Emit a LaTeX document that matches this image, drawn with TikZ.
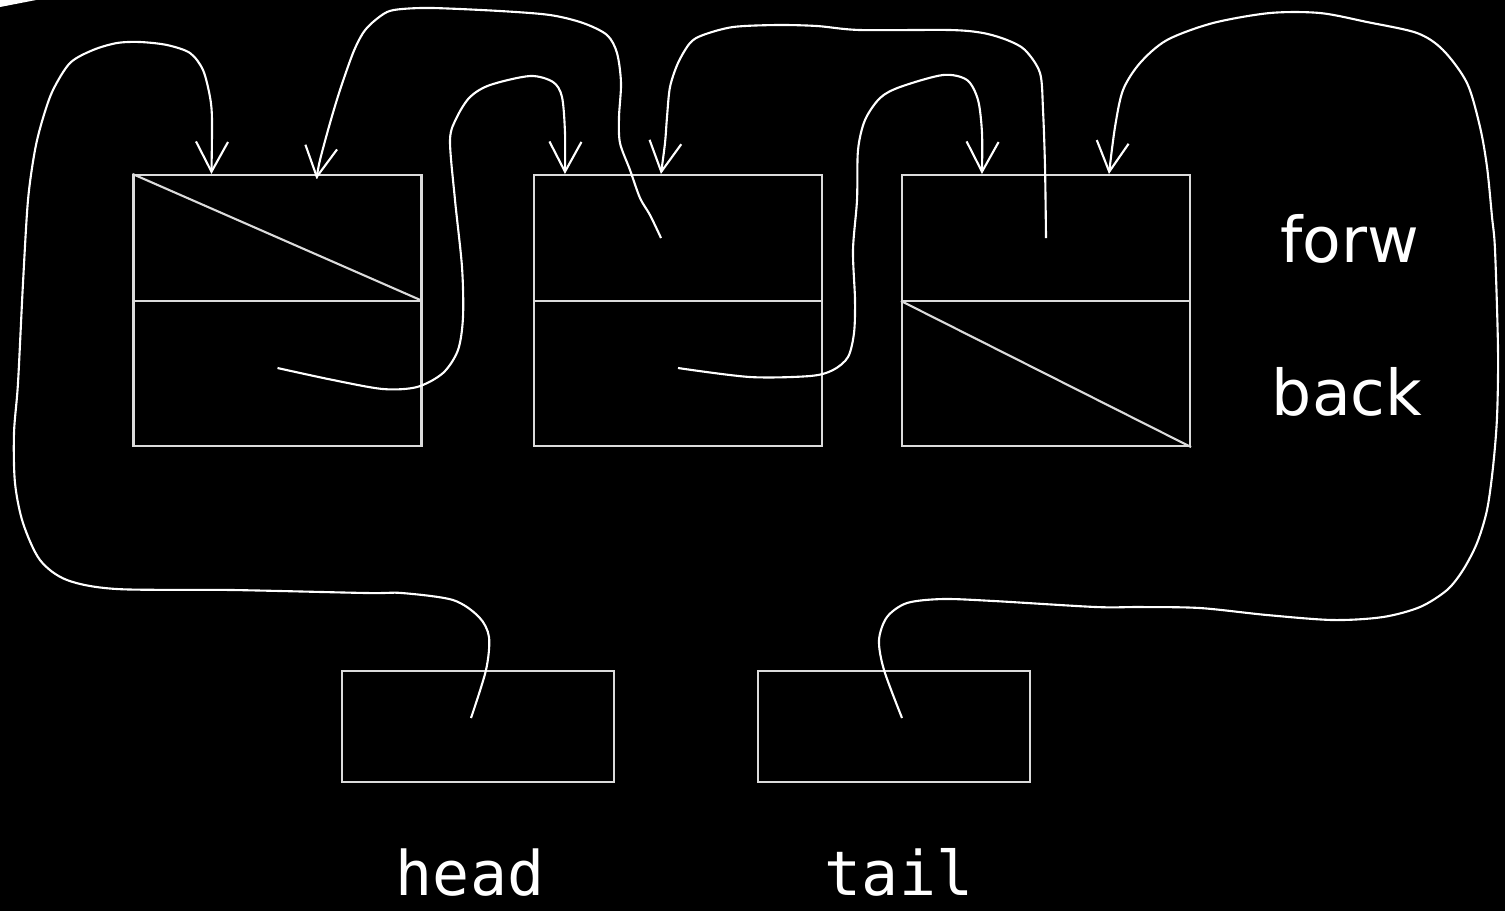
\documentclass[tikz,border=0pt]{standalone}
\usepackage{fontspec}
\usetikzlibrary{arrows.meta}
\newfontfamily\lblfont{DejaVu Sans}
\newfontfamily\ptrfont{DejaVu Sans Mono}
\definecolor{boxgray}{gray}{0.86}

\begin{document}
\begin{tikzpicture}[
    cell/.style={draw=boxgray, line width=0.6pt, minimum width=2.88cm, minimum height=2.71cm, inner sep=0pt},
    ptrbox/.style={draw=boxgray, line width=0.6pt, minimum width=2.72cm, minimum height=1.11cm, inner sep=0pt},
    link/.style={white, line width=0.6pt, -{Straight Barb[length=3mm,width=3.2mm]}},
    field/.style={white, font=\lblfont\fontsize{18}{20}\selectfont, anchor=base},
    ptrname/.style={white, font=\ptrfont\fontsize{17.5}{20}\selectfont, anchor=base, inner sep=0pt}
]
                % Background
                \fill[black] (0,0) rectangle (15.05,-9.11);
                \useasboundingbox (0,0) rectangle (15.05,-9.11);
                \fill[white] (0,0) -- (0.36,0) -- (0,-0.07) -- cycle;

                % List cells
                \node[cell] (n1) at (2.775,-3.105) {};
                \node[cell] (n2) at (6.78,-3.105) {};
                \node[cell] (n3) at (10.46,-3.105) {};
                \foreach \n in {n1,n2,n3}
                    \draw[boxgray, line width=0.6pt] ([yshift=-12.7mm]\n.north west) -- ([yshift=-12.7mm]\n.north east);

                % Null pointers
                \draw[boxgray, line width=0.6pt] (n1.north west) -- ([yshift=-12.7mm]n1.north east);
                \draw[boxgray, line width=0.6pt] ([yshift=-12.7mm]n3.north west) -- (n3.south east);

                % head and tail
                \node[ptrbox] (hd) at (4.78,-7.265) {};
                \node[ptrbox] (tl) at (8.94,-7.265) {};
                \node[ptrname] (hdname) at (4.70,-8.95) {head};
                \node[ptrname] (tlname) at (8.99,-8.95) {tail};

                % Field names
                \node[field] (forw) at (13.50,-2.62) {forw};
                \node[field] (back) at (13.47,-4.15) {back};

                % Start and end points
                \coordinate (s1) at ([shift={(-0.07,0.085)}]hd.center);
                \coordinate (s2) at ([yshift=-5.75mm]n1.center);
                \coordinate (s3) at ([shift={(-0.17,0.725)}]n2.center);
                \coordinate (s4) at ([yshift=-5.75mm]n2.center);
                \coordinate (s5) at ([yshift=7.25mm]n3.center);
                \coordinate (s6) at ([shift={(0.08,0.085)}]tl.center);
                \coordinate (a1) at ([xshift=7.9mm]n1.north west);
                \coordinate (a2) at ([xshift=18.4mm,yshift=-0.5mm]n1.north west);
                \coordinate (a3) at ([xshift=3.2mm]n2.north west);
                \coordinate (a4) at ([xshift=12.8mm]n2.north west);
                \coordinate (a5) at ([xshift=8.1mm]n3.north west);
                \coordinate (a6) at ([xshift=20.8mm]n3.north west);

                % Pointers
                \draw[link] plot[smooth] coordinates {(s1) (4.86,-6.70) (4.89,-6.37) (4.79,-6.17) (4.53,-6.00) (4.02,-5.93)
                    (3.67,-5.93) (2.33,-5.90) (1.17,-5.89) (0.67,-5.80) (0.40,-5.60) (0.23,-5.23) (0.15,-4.83) (0.14,-4.33)
                    (0.18,-3.83) (0.23,-2.83) (0.28,-2.00) (0.35,-1.50) (0.43,-1.18) (0.53,-0.90) (0.70,-0.63) (0.93,-0.50)
                    (1.17,-0.43) (1.40,-0.42) (1.67,-0.45) (1.90,-0.53) (2.03,-0.70) (2.10,-0.97) (2.12,-1.20) (a1)};
                \draw[link] plot[smooth] coordinates {(s2) (3.33,-3.80) (3.83,-3.89) (4.17,-3.87) (4.43,-3.73) (4.58,-3.50)
                    (4.63,-3.17) (4.62,-2.67) (4.55,-2.00) (4.50,-1.40) (4.57,-1.17) (4.70,-0.97) (4.90,-0.85) (5.30,-0.76)
                    (5.53,-0.82) (5.62,-0.97) (5.65,-1.33) (a3)};
                \draw[link] plot[smooth] coordinates {(s3) (6.50,-2.15) (6.40,-1.98) (6.30,-1.70) (6.20,-1.43) (6.19,-1.17)
                    (6.21,-0.83) (6.17,-0.53) (6.07,-0.35) (5.83,-0.23) (5.50,-0.15) (5.00,-0.11) (4.33,-0.08) (4.02,-0.09)
                    (3.87,-0.12) (3.73,-0.22) (3.63,-0.33) (3.53,-0.53) (3.40,-0.90) (3.30,-1.23) (3.20,-1.60) (a2)};
                \draw[link] plot[smooth] coordinates {(s4) (7.50,-3.77) (8.10,-3.76) (8.33,-3.70) (8.48,-3.57) (8.54,-3.33)
                    (8.55,-3.00) (8.53,-2.50) (8.57,-2.00) (8.58,-1.50) (8.65,-1.20) (8.80,-0.98) (9.00,-0.87) (9.43,-0.75)
                    (9.67,-0.80) (9.78,-1.00) (9.82,-1.33) (a5)};
                \draw[link] plot[smooth] coordinates {(s5) (10.45,-1.67) (10.43,-1.10) (10.40,-0.73) (10.25,-0.50)
                    (10.07,-0.40) (9.83,-0.33) (9.50,-0.30) (8.60,-0.30) (8.17,-0.26) (7.77,-0.25) (7.33,-0.27) (7.03,-0.35)
                    (6.90,-0.43) (6.78,-0.63) (6.70,-0.87) (6.67,-1.17) (6.65,-1.43) (a4)};
                \draw[link] plot[smooth] coordinates {(s6) (8.84,-6.70) (8.79,-6.40) (8.87,-6.17) (9.07,-6.03) (9.43,-5.99)
                    (9.94,-6.01) (10.96,-6.07) (11.40,-6.07) (12.00,-6.08) (12.67,-6.15) (13.33,-6.20) (13.83,-6.17)
                    (14.20,-6.07) (14.47,-5.90) (14.63,-5.70) (14.77,-5.43) (14.87,-5.10) (14.93,-4.67) (14.97,-4.17)
                    (14.98,-3.50) (14.95,-2.50) (14.92,-2.17) (14.87,-1.67) (14.80,-1.27) (14.67,-0.83) (14.43,-0.50)
                    (14.17,-0.33) (13.67,-0.22) (13.20,-0.13) (12.70,-0.13) (12.13,-0.23) (11.67,-0.40) (11.40,-0.63)
                    (11.23,-0.90) (11.15,-1.27) (a6)};
\end{tikzpicture}
\end{document}
